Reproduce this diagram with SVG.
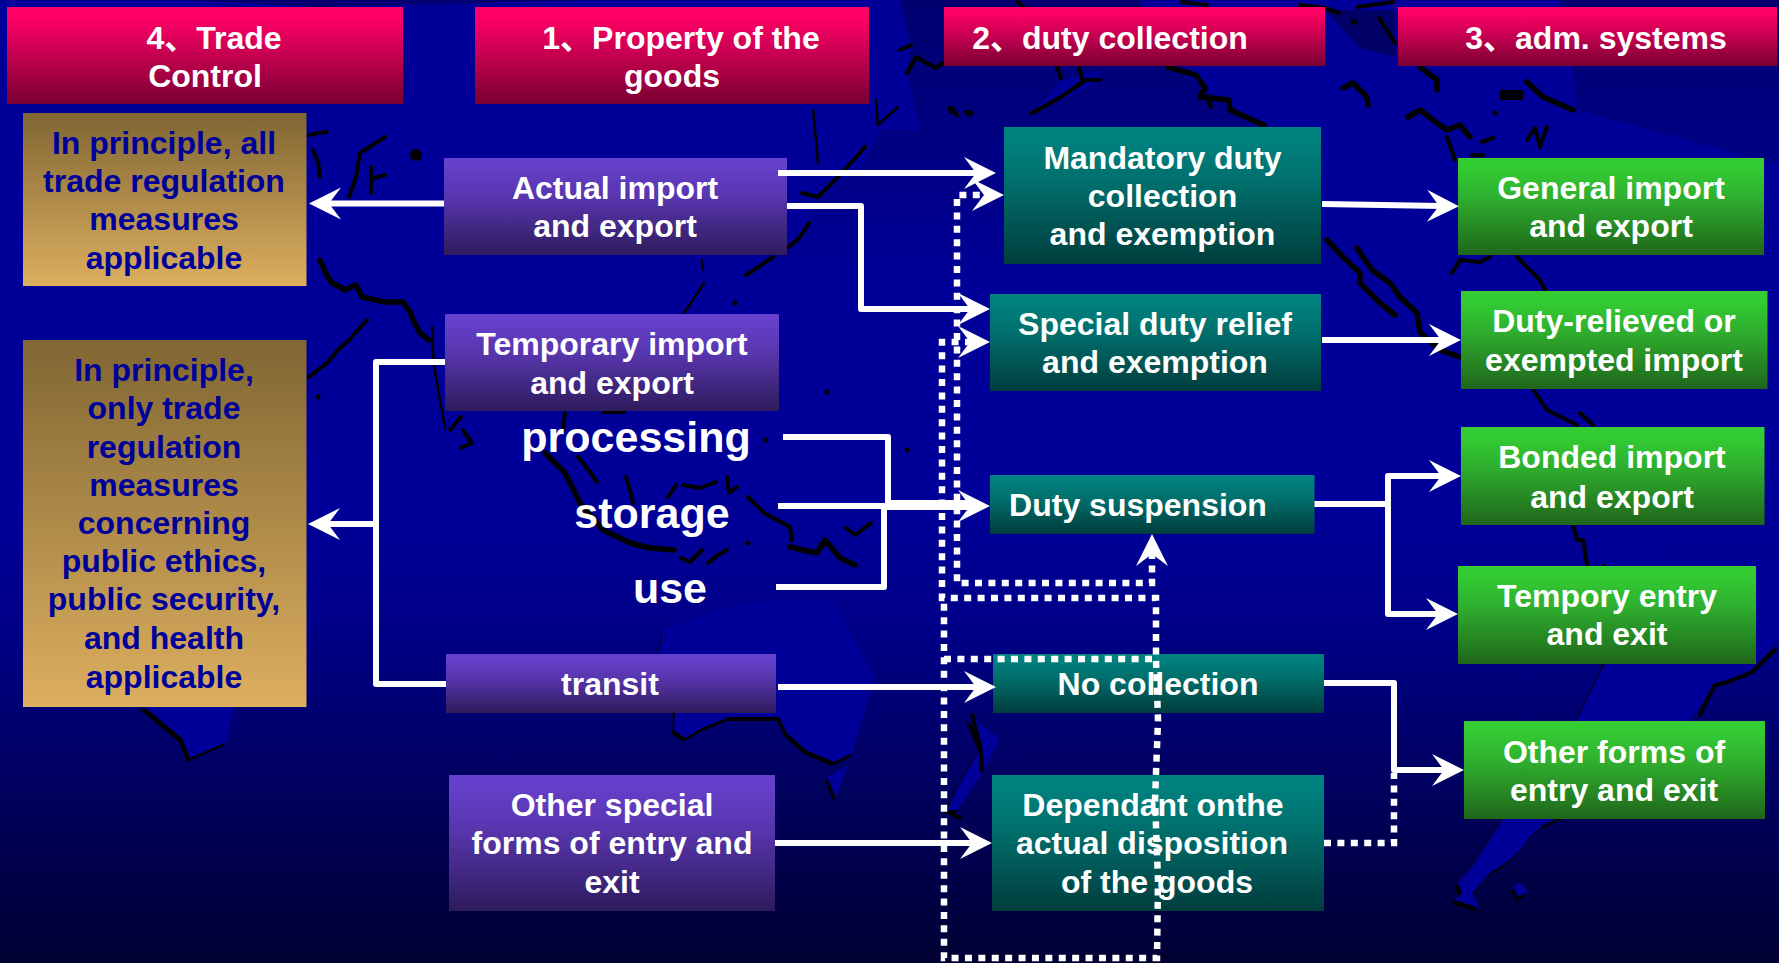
<svg xmlns="http://www.w3.org/2000/svg" width="1779" height="963" viewBox="0 0 1779 963">
<style>
text{font-family:"Liberation Sans","Noto Sans CJK SC",sans-serif;font-weight:700;font-size:32px;fill:#fff;text-anchor:middle;transform:translateY(1px)}
.g text{fill:#000099}
.big text{font-size:43px}
.line{fill:none;stroke:#fff;stroke-width:6;stroke-linejoin:round}
.arrow{marker-end:url(#ah)}
.dot{fill:none;stroke:#fff;stroke-width:6.500;stroke-dasharray:7 6.400}
.k{fill:none;stroke:#000;stroke-width:4;stroke-linejoin:round;stroke-linecap:round}
.k5{stroke-width:5.500}
.k2{stroke-width:2.500}
.land{fill:#000099}
.shadow{fill:#000}
</style>
<defs>
<linearGradient id="bg" x1="0" y1="0" x2="0" y2="1"><stop offset="0" stop-color="#000070"/><stop offset=".1" stop-color="#00007c"/><stop offset=".3" stop-color="#000098"/><stop offset=".52" stop-color="#000099"/><stop offset=".64" stop-color="#00008a"/><stop offset="1" stop-color="#000033"/></linearGradient>
<linearGradient id="red" x1="0" y1="0" x2="0" y2="1"><stop offset=".1" stop-color="#ff0066"/><stop offset="1" stop-color="#7a0033"/></linearGradient>
<linearGradient id="gold" x1="0" y1="0" x2="0" y2="1"><stop offset="0" stop-color="#806633"/><stop offset="1" stop-color="#ddaf5f"/></linearGradient>
<linearGradient id="pur" x1="0" y1="0" x2="0" y2="1"><stop offset=".05" stop-color="#6640cc"/><stop offset=".4" stop-color="#5836ae"/><stop offset="1" stop-color="#2e1b5c"/></linearGradient>
<linearGradient id="teal" x1="0" y1="0" x2="0" y2="1"><stop offset=".05" stop-color="#008380"/><stop offset=".4" stop-color="#006f6c"/><stop offset="1" stop-color="#003d3d"/></linearGradient>
<linearGradient id="grn" x1="0" y1="0" x2="0" y2="1"><stop offset=".1" stop-color="#33cc33"/><stop offset=".4" stop-color="#2fb02f"/><stop offset="1" stop-color="#1f661a"/></linearGradient>
<marker id="ah" markerUnits="userSpaceOnUse" markerWidth="40" markerHeight="40" refX="20" refY="20" orient="auto-start-reverse"><path d="M38,20 L6,4 L18,20 L6,36 Z" fill="#fff"/></marker>
<path id="aus" d="M658,653L664,630L717,610L770,600L832,600L875,677L859,730L852,753L834,762L806,750L787,733L779,717L729,717L702,728L685,738L674,730L675,713Z"/>
<path id="sam" d="M1605,663L1578,717L1503,820L1472,867L1458,883L1462,893L1455,900L1480,908L1472,893L1490,873L1507,862L1520,850L1530,837L1543,825L1600,800L1690,720L1717,683L1750,673L1779,640V560H1605Z"/>
<path id="ind" d="M142,705L182,738L190,758L227,742L234,705Z"/>
<path id="nz" d="M969,717L1000,738L986,767L958,810L947,810L958,787L981,747Z"/>
<path id="tas" d="M827,777L848,765L836,798Z"/>
<path id="fal" d="M1513,887L1520,882L1528,892L1518,897Z"/>
</defs>
<rect width="1779" height="963" fill="url(#bg)"/>
<g id="map">
<path class="land" d="M0,0H180L320,7L600,0H900L911,45L907,73L920,130L880,130L860,170L818,197L802,240L746,275L704,290L684,313L440,420L320,320L0,330Z"/>
<path class="land" d="M1140,0L1168,67L1205,88L1264,125L1300,180L1327,240L1357,273L1400,300L1460,357L1533,389L1577,425L1590,563L1650,560L1779,400V165L1577,110L1573,70L1560,0Z"/>
<path class="land" d="M1032,113L1061,80L1100,70L1100,82L1061,100Z"/>
<path d="M1325,10L1396,10V57L1360,48Z" fill="#000066"/>
<g class="shadow">
<use href="#aus" x="-2" y="4"/><use href="#sam" x="-3" y="4"/><use href="#ind" x="-3" y="4"/><use href="#nz" x="-3" y="4"/><use href="#tas" x="-2" y="4"/><use href="#fal" x="-2" y="4"/>
</g>
<g class="land"><use href="#aus"/><use href="#sam"/><use href="#ind"/><use href="#nz"/><use href="#tas"/><use href="#fal"/></g>
<path class="k" d="M309,135L318,133L327,132M313,150L318,162L320,177M385,137L368,148L360,153L356,177L349,197M371,167L371,193M374,178L385,175"/>
<circle cx="416" cy="155" r="6"/>
<path class="k k5" d="M320,260L326,274L331,282L345,290L356,285L362,297L385,302L403,302L410,312L414,322L420,333L429,340"/>
<path class="k k2" d="M432,327L433,350L434,367L440,400L445,428"/>
<path class="k" d="M461,417L450,430M463,430L472,443L461,448M367,320L349,340L338,350L327,363L309,377"/>
<circle cx="318" cy="397" r="2.500"/>
<path class="k k2" d="M813,110L816,140L818,163M876,100L878,125L898,107M704,283L693,300L684,313M702,260L703,270"/>
<circle cx="952" cy="110" r="3.500"/><circle cx="970" cy="113" r="3"/><circle cx="735" cy="303" r="2.500"/><circle cx="827" cy="392" r="2.500"/><circle cx="766" cy="440" r="2.500"/><circle cx="907" cy="450" r="2.500"/><circle cx="748" cy="543" r="2.500"/>
<path class="k" d="M865,147L842,173L830,185L818,197L802,193M809,223L800,237L789,247M773,257L760,266L746,275"/>
<path class="k k5" d="M545,453L565,473L580,503L603,530L630,543L650,548L674,550"/>
<path class="k" d="M578,457L590,472L597,482M626,477L630,490L633,503M668,497L676,485M683,485L700,488L716,482M727,477L729,493L737,487M748,497L764,513L790,527L792,540M846,528L855,535L871,523M681,558L690,562L702,550M708,563L718,555L727,550M603,412L624,412M565,413L563,430"/>
<path class="k k5" d="M790,547L803,550L817,553L825,540L840,558L855,565"/>
<path class="k k5" d="M1327,240L1343,257L1360,273L1360,283L1380,303L1395,315M1357,248L1372,270L1390,283L1400,297L1417,313L1420,332L1440,350L1460,357"/>
<path class="k" d="M1452,273L1460,260L1480,262L1490,257M1517,257L1530,270L1540,280L1545,290M1533,389L1547,410L1577,425M1580,413L1593,425M1573,525L1577,540L1583,540L1587,565"/>
<path class="k k5" d="M1420,67L1437,80L1437,90M1343,88L1353,83L1367,97L1368,105M1408,117L1420,110L1437,123L1447,130L1460,125L1470,137M1527,82L1543,97L1557,103L1573,110"/>
<path class="k" d="M1447,137L1455,160M1482,142L1493,138M1472,155L1483,155M1527,140L1535,128L1540,147L1547,127"/>
<path d="M1500,90H1523V100H1500Z"/>
<circle cx="1495" cy="113" r="2.500"/>
<path class="k" d="M1775,650L1752,672L1725,683L1715,685L1707,700L1700,715M900,50L911,45M907,73L916,57L936,68L944,62M1057,67L1061,78M1032,113L1061,97L1086,80L1100,80M1079,68L1082,80M950,108L957,115M966,112L970,115M1207,97L1211,107M1182,2L1207,5M1300,5L1325,8L1339,13M1357,7L1393,2M1379,18L1395,43M1018,2L1023,7"/>
<path class="k k5" d="M1168,67L1196,75L1205,88L1200,97L1229,100L1230,110L1264,125"/>
<circle cx="1354" cy="22" r="3"/>
<path class="k" d="M972,715L980,745L982,770M950,813L960,818"/>
</g>
<g id="h4"><rect x="7" y="7" width="396" height="97" fill="url(#red)"/><text x="214" y="48">4、Trade</text><text x="205" y="86">Control</text></g>
<g id="h1"><rect x="475" y="7" width="394" height="97" fill="url(#red)"/><text x="681" y="48">1、Property of the</text><text x="672" y="86">goods</text></g>
<g id="h2"><rect x="944" y="7" width="381" height="59" fill="url(#red)"/><text x="1110" y="48">2、duty collection</text></g>
<g id="h3"><rect x="1398" y="7" width="379" height="59" fill="url(#red)"/><text x="1596" y="48">3、adm. systems</text></g>
<g id="gold1" class="g"><rect x="23" y="113" width="283.500" height="173" fill="url(#gold)"/><text x="164" y="153">In principle, all</text><text x="164" y="191">trade regulation</text><text x="164" y="229">measures</text><text x="164" y="268">applicable</text></g>
<g id="gold2" class="g"><rect x="23" y="340" width="283.500" height="367" fill="url(#gold)"/><text x="164" y="380">In principle,</text><text x="164" y="418">only trade</text><text x="164" y="457">regulation</text><text x="164" y="495">measures</text><text x="164" y="533">concerning</text><text x="164" y="571">public ethics,</text><text x="164" y="609">public security,</text><text x="164" y="648">and health</text><text x="164" y="687">applicable</text></g>
<g id="actual"><rect x="444" y="158" width="343" height="97" fill="url(#pur)"/><text x="615" y="198">Actual import</text><text x="615" y="236">and export</text></g>
<g id="temporary"><rect x="445" y="314" width="334" height="97" fill="url(#pur)"/><text x="612" y="354">Temporary import</text><text x="612" y="393">and export</text></g>
<g id="processing" class="big"><text x="636" y="451">processing</text></g>
<g id="storage" class="big"><text x="652" y="526.500">storage</text></g>
<g id="use" class="big"><text x="670" y="602">use</text></g>
<g id="transit"><rect x="446" y="654" width="330" height="59" fill="url(#pur)"/><text x="610" y="694">transit</text></g>
<g id="other"><rect x="449" y="775" width="326" height="136" fill="url(#pur)"/><text x="612" y="815">Other special</text><text x="612" y="853">forms of entry and</text><text x="612" y="892">exit</text></g>
<g id="mandatory"><rect x="1004" y="127" width="317" height="137" fill="url(#teal)"/><text x="1162.500" y="168">Mandatory duty</text><text x="1162.500" y="206">collection</text><text x="1162.500" y="244">and exemption</text></g>
<g id="special"><rect x="990" y="294" width="331" height="97" fill="url(#teal)"/><text x="1155" y="334">Special duty relief</text><text x="1155" y="372">and exemption</text></g>
<g id="suspension"><rect x="990" y="475" width="324.500" height="59" fill="url(#teal)"/><text x="1138" y="515">Duty suspension</text></g>
<g id="nocollection"><rect x="993" y="654" width="331" height="59" fill="url(#teal)"/><text x="1158" y="694">No collection</text></g>
<g id="dependant"><rect x="992" y="775" width="332" height="136" fill="url(#teal)"/><text x="1153" y="815">Dependant onthe</text><text x="1152" y="853">actual disposition</text><text x="1157" y="892">of the goods</text></g>
<g id="general"><rect x="1458" y="158" width="306" height="97" fill="url(#grn)"/><text x="1611" y="198">General import</text><text x="1611" y="236">and export</text></g>
<g id="relieved"><rect x="1461" y="291" width="306.500" height="98" fill="url(#grn)"/><text x="1614" y="331">Duty-relieved or</text><text x="1614" y="370">exempted import</text></g>
<g id="bonded"><rect x="1461" y="427" width="303.500" height="98" fill="url(#grn)"/><text x="1612" y="467">Bonded import</text><text x="1612" y="507">and export</text></g>
<g id="tempory"><rect x="1458" y="566" width="298" height="98" fill="url(#grn)"/><text x="1607" y="606">Tempory entry</text><text x="1607" y="644">and exit</text></g>
<g id="otherforms"><rect x="1464" y="721" width="301" height="98" fill="url(#grn)"/><text x="1614" y="762">Other forms of</text><text x="1614" y="800">entry and exit</text></g>
<g id="connectors">
<path class="dot" d="M1152,552V583H957V195H986" marker-start="url(#ah)" marker-end="url(#ah)"/>
<path class="dot" d="M972,342H942V598H1156V660L1158,720L1155,800L1158,880L1157,958H944V598" marker-start="url(#ah)"/>
<path class="dot" d="M944,659H1156"/>
<path class="dot" d="M1324,843H1394V773"/>
<path class="line arrow" d="M778,173H978"/>
<path class="line arrow" d="M787,206H861V309H972"/>
<path class="line arrow" d="M444,203.500H327"/>
<path class="line" d="M445,362H376V684H446"/>
<path class="line arrow" d="M376,524H326"/>
<path class="line" d="M783,437H888V503H972"/>
<path class="line" d="M776,587H884V507H972"/>
<path class="line arrow" d="M778,506H972"/>
<path class="line arrow" d="M778,687H978"/>
<path class="line arrow" d="M775,843H974"/>
<path class="line arrow" d="M1322,204L1441,206"/>
<path class="line arrow" d="M1322,340H1443"/>
<path class="line arrow" d="M1314.500,504H1388V476H1443"/>
<path class="line arrow" d="M1388,504V614H1440"/>
<path class="line arrow" d="M1324,683H1394V770H1446"/>
</g>
</svg>
